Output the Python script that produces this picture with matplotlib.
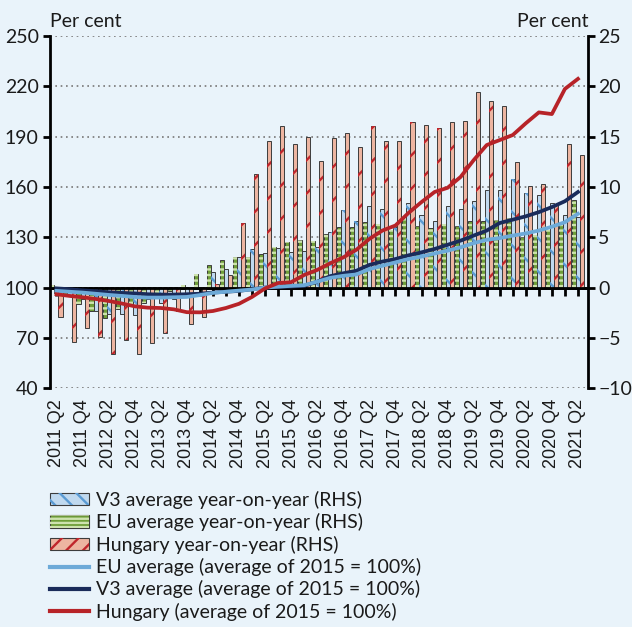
"""House price indices and year-on-year changes: Hungary, V3 and EU averages."""

import matplotlib.pyplot as plt
import numpy as np
from matplotlib.patches import Patch
from matplotlib.lines import Line2D

plt.rcParams["font.family"] = ["Lato", "DejaVu Sans"]
plt.rcParams["hatch.linewidth"] = 1.7

BG = "#E9F3FA"
EDGE = "#3C3C3C"

# 2011 Q2 ... 2021 Q2
quarters = [f"{y} Q{q}" for y in range(2011, 2022) for q in range(1, 5)][1:42]

# year-on-year change, per cent (RHS)
eu_yoy = [0.3, -0.6, -1.6, -2.3, -3.0, -2.1, -1.6, -1.5, -0.6, -0.3,
          0.3, 1.3, 2.2, 2.7, 3.0, 3.0, 3.3, 4.0, 4.5, 4.7,
          4.6, 5.3, 6.0, 6.0, 6.5, 6.3, 5.7, 6.8, 6.1, 5.9,
          6.3, 6.1, 6.6, 6.6, 6.7, 6.9, 5.0, 5.2, 5.7, 6.4, 8.7]
v3_yoy = [-0.5, -0.8, -1.1, -2.3, -2.6, -2.6, -2.7, -1.1, -1.5, -1.1,
          -0.6, 0.1, 1.5, 1.8, 3.0, 3.8, 3.4, 3.9, 3.5, 3.6,
          4.0, 5.5, 7.7, 6.6, 8.1, 7.8, 6.0, 8.4, 7.2, 6.6,
          8.1, 7.8, 8.6, 9.7, 9.7, 10.8, 9.4, 9.2, 8.4, 7.2, 7.0]
hu_yoy = [-2.9, -5.4, -4.0, -4.9, -6.6, -5.2, -6.6, -5.5, -4.5, -2.3,
          -3.6, -2.9, 0.4, 1.2, 6.4, 11.3, 14.6, 16.1, 14.3, 15.0,
          12.6, 14.9, 15.4, 14.0, 16.1, 14.6, 14.6, 16.5, 16.2, 15.9,
          16.5, 16.6, 19.4, 18.5, 18.1, 12.5, 10.1, 10.3, 8.3, 14.3, 13.2]

# index, average of 2015 = 100 (LHS)
eu_index = [98.0, 97.5, 97.0, 96.3, 95.6, 95.0, 94.4, 94.0, 94.0, 94.2,
            94.4, 95.5, 96.8, 97.5, 98.2, 98.8, 100.0, 100.5, 101.0, 101.4,
            103.5, 105.8, 107.0, 107.8, 111.0, 113.0, 115.0, 117.0, 118.5, 120.3,
            122.0, 124.0, 126.5, 128.5, 129.5, 131.0, 132.3, 134.0, 136.3, 139.0, 144.0]
v3_index = [99.5, 99.0, 98.3, 97.8, 97.2, 96.8, 96.5, 96.0, 95.8, 95.8,
            96.0, 96.3, 97.0, 97.5, 98.0, 99.0, 100.0, 100.3, 100.6, 101.0,
            103.5, 106.8, 108.5, 110.0, 113.5, 115.5, 117.0, 119.2, 121.0, 123.0,
            125.5, 128.0, 131.0, 134.0, 138.5, 140.5, 142.5, 145.0, 148.0, 151.5, 157.0]
hu_index = [96.0, 95.0, 94.2, 93.2, 92.0, 90.5, 88.8, 88.0, 87.8, 87.0,
            85.3, 85.2, 86.0, 87.8, 90.3, 94.4, 99.5, 102.7, 103.2, 107.5,
            110.5, 114.5, 118.0, 122.5, 129.0, 134.0, 137.0, 144.5, 151.0, 157.0,
            159.5, 166.0, 176.0, 185.0, 188.0, 191.0, 198.0, 204.5, 203.5, 218.5, 224.5]

lhs_ticks = [40, 70, 100, 130, 160, 190, 220, 250]
rhs_ticks = [-10, -5, 0, 5, 10, 15, 20, 25]
rhs_labels = ["\u221210", "\u22125", "0", "5", "10", "15", "20", "25"]

V3_FACE, V3_HATCH = "#C0D9EF", "#5B9BD3"
EU_FACE, EU_HATCH = "#6E9E38", "#CDE2AE"
HU_FACE, HU_HATCH = "#EDB5A1", "#C0262C"
EU_LINE, V3_LINE, HU_LINE = "#6DAAD8", "#1A2B5A", "#B72328"

x = np.arange(len(quarters))
w = 0.31

fig = plt.figure(figsize=(6.32, 6.27), dpi=100, facecolor=BG)
ax = fig.add_axes([0.079, 0.381, 0.852, 0.5614])
ax2 = ax.twinx()
ax.set_zorder(ax2.get_zorder() + 1)
ax.patch.set_visible(False)


def hatched_bars(pos, vals, face, hatch, hatch_col):
    ax2.bar(pos, vals, w, color=face, edgecolor=EDGE, linewidth=0.7, zorder=2)
    ax2.bar(pos, vals, w, fill=False, edgecolor=hatch_col, hatch=hatch,
            linewidth=0, zorder=2.1)


hatched_bars(x - w, eu_yoy, EU_FACE, "---", EU_HATCH)
hatched_bars(x, v3_yoy, V3_FACE, "\\", V3_HATCH)
hatched_bars(x + w, hu_yoy, HU_FACE, "/", HU_HATCH)

ax2.set_ylim(-10, 25)
ax2.set_yticks(rhs_ticks, rhs_labels)
ax2.yaxis.grid(True, color="#777777", linestyle=(0, (1, 2.2)), linewidth=1.2)
ax2.set_axisbelow(True)
ax2.axhline(0, color="black", linewidth=2, zorder=3)

# zero line tick marks
sec = ax2.secondary_xaxis(10 / 35)
sec.set_xticks(x)
sec.tick_params(axis="x", length=6, width=2, labelbottom=False)
sec.spines["bottom"].set_linewidth(2)

ax.plot(x, v3_index, color=V3_LINE, linewidth=2.7, zorder=3)
ax.plot(x, eu_index, color=EU_LINE, linewidth=2.7, zorder=3)
ax.plot(x, hu_index, color=HU_LINE, linewidth=2.7, zorder=3)

ax.set_ylim(40, 250)
ax.set_yticks(lhs_ticks)
ax.set_xlim(-0.5, 40.8)
ax.set_xticks(x[::2], quarters[::2], rotation=90, fontfamily="Liberation Sans",
              fontsize=13, color="#1A1A1A")
ax.tick_params(axis="x", length=0, pad=8)

for a in (ax, ax2):
    a.spines[["top", "bottom"]].set_visible(False)
    a.tick_params(axis="y", length=5, width=2, pad=3, labelsize=14,
                  labelcolor="#1A1A1A")
ax2.tick_params(axis="y", pad=2)
ax.spines["right"].set_visible(False)
ax2.spines["left"].set_visible(False)
ax.spines["left"].set_linewidth(2)
ax2.spines["right"].set_linewidth(2)

ax.text(0.0, 1.026, "Per cent", transform=ax.transAxes, ha="left",
        va="baseline", fontsize=14, color="#1A1A1A")
ax.text(1.0, 1.026, "Per cent", transform=ax.transAxes, ha="right",
        va="baseline", fontsize=14, color="#1A1A1A")


def bar_handle(face, hatch, hatch_col):
    return (Patch(facecolor=face, edgecolor=EDGE, linewidth=0.8),
            Patch(facecolor="none", edgecolor=hatch_col, hatch=hatch, linewidth=0))


handles = [
    bar_handle(V3_FACE, "\\\\", V3_HATCH),
    bar_handle(EU_FACE, "----", EU_HATCH),
    bar_handle(HU_FACE, "//", HU_HATCH),
    Line2D([], [], color=EU_LINE, linewidth=3),
    Line2D([], [], color=V3_LINE, linewidth=3),
    Line2D([], [], color=HU_LINE, linewidth=3),
]
labels = [
    "V3 average year-on-year (RHS)",
    "EU average year-on-year (RHS)",
    "Hungary year-on-year (RHS)",
    "EU average (average of 2015 = 100%)",
    "V3 average (average of 2015 = 100%)",
    "Hungary (average of 2015 = 100%)",
]
fig.legend(handles, labels, loc="upper left", bbox_to_anchor=(50 / 632, 1 - 491 / 627),
           frameon=False, fontsize=14, handlelength=2.0, handleheight=0.6,
           handletextpad=0.35, labelspacing=0.22, borderpad=0, borderaxespad=0,
           labelcolor="#1A1A1A")

fig.savefig("out.png", dpi=100, facecolor=BG)
